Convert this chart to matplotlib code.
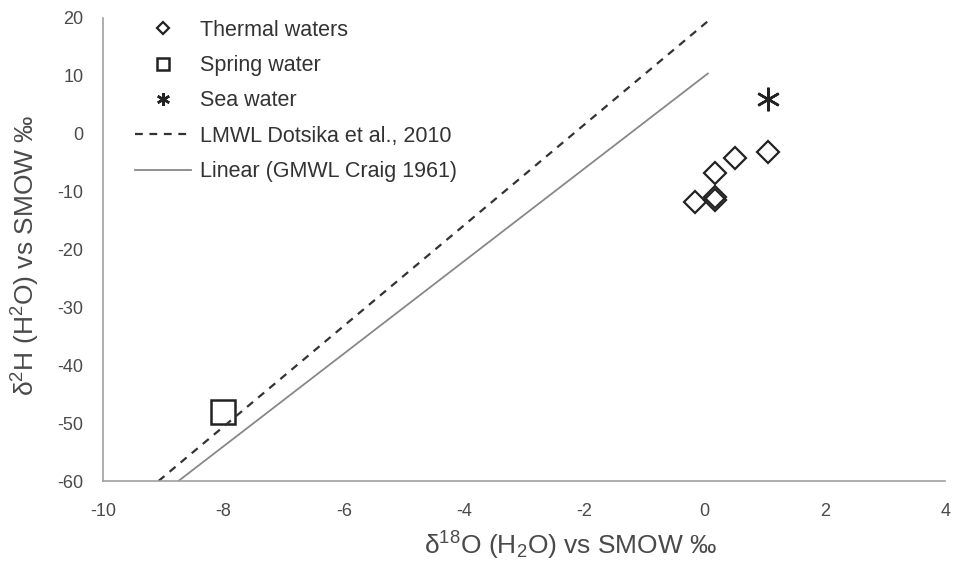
import matplotlib
matplotlib.use("Agg")
import matplotlib.pyplot as plt
import numpy as np

plt.rcParams['font.family'] = ['Liberation Sans', 'DejaVu Sans']
plt.rcParams['mathtext.default'] = 'regular'
plt.rcParams['axes.unicode_minus'] = False

# Data
thermal_x = [-0.17, 0.17, 0.17, 0.17, 0.5, 1.05]
thermal_y = [-11.8, -11.0, -11.5, -6.8, -4.2, -3.1]
spring_x = [-8.0]
spring_y = [-48.0]
sea_x = [1.05]
sea_y = [6.0]

# LMWL (Dotsika et al., 2010) line: slope, intercept, x-range
lmwl_slope, lmwl_int = 8.7, 19.0
lmwl_x = [-9.08, 0.05]
# GMWL (Craig 1961)
gmwl_slope, gmwl_int = 8.0, 10.0
gmwl_x = [-8.75, 0.05]

fig = plt.figure(figsize=(9.55, 5.62), dpi=100)
ax = fig.add_axes([0.108, 0.144, 0.882, 0.824])

lx = np.array(lmwl_x)
gx = np.array(gmwl_x)

ax.plot(thermal_x, thermal_y, linestyle='none', marker='D', markersize=11,
        markerfacecolor='none', markeredgecolor='#222222', markeredgewidth=1.6,
        label='Thermal waters')
ax.plot(spring_x, spring_y, linestyle='none', marker='s', markersize=17,
        markerfacecolor='none', markeredgecolor='#222222', markeredgewidth=1.8,
        label='Spring water')
ax.plot(sea_x, sea_y, linestyle='none', marker=(6, 2, 0), markersize=17,
        markeredgecolor='#222222', markeredgewidth=1.8, label='Sea water')
ax.plot(lx, lmwl_slope * lx + lmwl_int, linestyle=(0, (3.5, 3)), color='#333333',
        linewidth=1.6, label='LMWL Dotsika et al., 2010')
ax.plot(gx, gmwl_slope * gx + gmwl_int, linestyle='-', color='#888888',
        linewidth=1.3, label='Linear (GMWL Craig 1961)')

ax.set_xlim(-10, 4)
ax.set_ylim(-60, 20)
ax.set_xticks(np.arange(-10, 5, 2))
ax.set_yticks(np.arange(-60, 21, 10))
ax.tick_params(length=0, labelsize=13, colors='#4a4a4a')
ax.tick_params(axis='x', pad=16)
ax.tick_params(axis='y', pad=14)
for s in ['top', 'right']:
    ax.spines[s].set_visible(False)
for s in ['left', 'bottom']:
    ax.spines[s].set_color('#a0a0a0')
    ax.spines[s].set_linewidth(1.2)

ax.set_xlabel(r'δ$^{18}$O (H$_{2}$O) vs SMOW ‰', fontsize=19, color='#4a4a4a')
ax.set_ylabel(r'δ$^{2}$H (H$^{2}$O) vs SMOW ‰', fontsize=19, color='#4a4a4a')
ax.xaxis.set_label_coords(0.555, -0.105)
ax.yaxis.set_label_coords(-0.073, 0.488)

leg = ax.legend(loc='upper left', bbox_to_anchor=(0.038, 0.996), frameon=False,
                fontsize=15.5, markerscale=0.55, handlelength=2.6, labelspacing=0.665,
                handletextpad=0.4, borderpad=0, borderaxespad=0)
for t in leg.get_texts():
    t.set_color('#333333')

fig.savefig('out.png', dpi=100)
